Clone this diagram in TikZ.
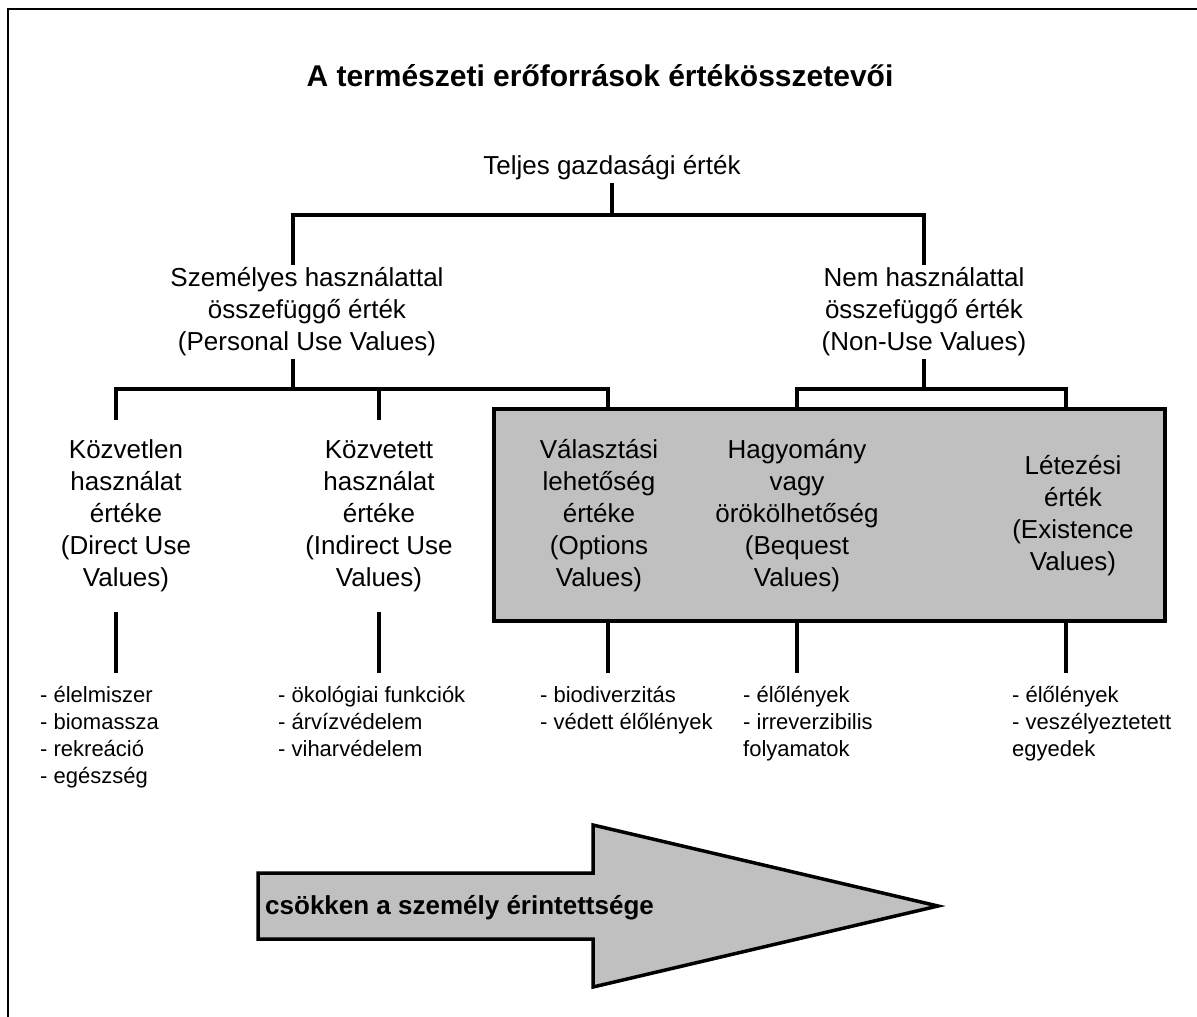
\documentclass[tikz,border=0pt]{standalone}
\usepackage{fontspec}
\setmainfont{Liberation Sans}
\usepackage{tikz}
\definecolor{boxgray}{HTML}{C0C0C0}
\tikzset{
heading/.style = { font = \bfseries\fontsize{30}{36}\selectfont, inner sep = 0pt },
branch/.style = { align = center, font = \fontsize{26}{32}\selectfont, inner xsep = 0pt, inner ysep = 3pt },
leaf/.style = { align = center, font = \fontsize{26}{32}\selectfont, inner xsep = 0pt, inner ysep = 20pt },
items/.style = { align = left, anchor = north west, font = \fontsize{22}{27}\selectfont, inner sep = 0pt },
conn/.style = { draw = black, line width = 4pt },
greybox/.style = { rectangle, draw = black, fill = boxgray, line width = 4.5pt },
page frame/.style = { draw = black, line width = 2pt },
trend arrow/.style = { draw = black, fill = boxgray, line width = 3.5pt },
trend label/.style = { font = \bfseries\fontsize{26}{30}\selectfont, inner sep = 0pt, anchor = west },
}
\begin{document}
\begin{tikzpicture}[x = 1pt, y = -1pt]
    \useasboundingbox (0, 0) rectangle (1197, 1017);
    \draw[page frame] (8, 1017) -- (8, 9) -- (1197, 9);
    \node[heading] (title) at (600, 76) {A természeti erőforrások értékösszetevői};
    \node[branch] (total) at (612, 168) {Teljes gazdasági érték};
    \node[branch] (personal) at (307, 312) {Személyes használattal\\összefüggő érték\\(Personal Use Values)};
    \node[branch] (nonuse) at (924, 312) {Nem használattal\\összefüggő érték\\(Non-Use Values)};
    \node[greybox, minimum width = 671pt, minimum height = 212pt] (group) at (829.5, 515) {};
    \node[leaf] (direct) at (126, 516) {Közvetlen\\használat\\értéke\\(Direct Use\\Values)};
    \node[leaf] (indirect) at (379, 516) {Közvetett\\használat\\értéke\\(Indirect Use\\Values)};
    \node[leaf] (options) at (599, 516) {Választási\\lehetőség\\értéke\\(Options\\Values)};
    \node[leaf] (bequest) at (797, 516) {Hagyomány\\vagy\\örökölhetőség\\(Bequest\\Values)};
    \node[leaf] (existence) at (1073, 516) {Létezési\\érték\\(Existence\\Values)};
    \node[items] (ldirect) at (40, 686) {- élelmiszer\\- biomassza\\- rekreáció\\- egészség};
    \node[items] (lindirect) at (278, 686) {- ökológiai funkciók\\- árvízvédelem\\- viharvédelem};
    \node[items] (loptions) at (540, 686) {- biodiverzitás\\- védett élőlények};
    \node[items] (lbequest) at (743, 686) {- élőlények\\- irreverzibilis\\folyamatok};
    \node[items] (lexistence) at (1012, 686) {- élőlények\\- veszélyeztetett\\egyedek};
    \coordinate (topbar) at (0, 215);
    \coordinate (usebar) at (0, 389);
    \draw[conn] (total.south) -- (total.south |- topbar);
    \draw[conn] ([xshift = -14pt]personal.north) |- (nonuse.north |- topbar) -- (nonuse.north);
    \draw[conn] ([xshift = -14pt]personal.south) -- ([xshift = -14pt]personal.south |- usebar);
    \draw[conn] ([xshift = -10pt]direct.north) |- ([xshift = 9pt]options.north |- usebar) -- ([xshift = 9pt]options.north |- group.north);
    \draw[conn] (indirect.north) -- (indirect.north |- usebar);
    \draw[conn] (nonuse.south) -- (nonuse.south |- usebar);
    \draw[conn] (bequest.north |- group.north) |- ([xshift = -7pt]existence.north |- usebar) -- ([xshift = -7pt]existence.north |- group.north);
    \draw[conn, shorten > = 13pt] ([xshift = -10pt]direct.south) -- ([xshift = -10pt]direct.south |- ldirect.north);
    \draw[conn, shorten > = 13pt] (indirect.south) -- (indirect.south |- lindirect.north);
    \draw[conn, shorten > = 13pt] ([xshift = 9pt]options.south |- group.south) -- ([xshift = 9pt]options.south |- loptions.north);
    \draw[conn, shorten > = 13pt] (bequest.south |- group.south) -- (bequest.south |- lbequest.north);
    \draw[conn, shorten > = 13pt] ([xshift = -7pt]existence.south |- group.south) -- ([xshift = -7pt]existence.south |- lexistence.north);
    \draw[trend arrow] (258, 873) -- (593, 873) -- (593, 825) -- (938, 906) -- (593, 987) -- (593, 939) -- (258, 939) -- cycle;
    \node[trend label] (decline) at (265, 908) {csökken a személy érintettsége};
\end{tikzpicture}
\end{document}
